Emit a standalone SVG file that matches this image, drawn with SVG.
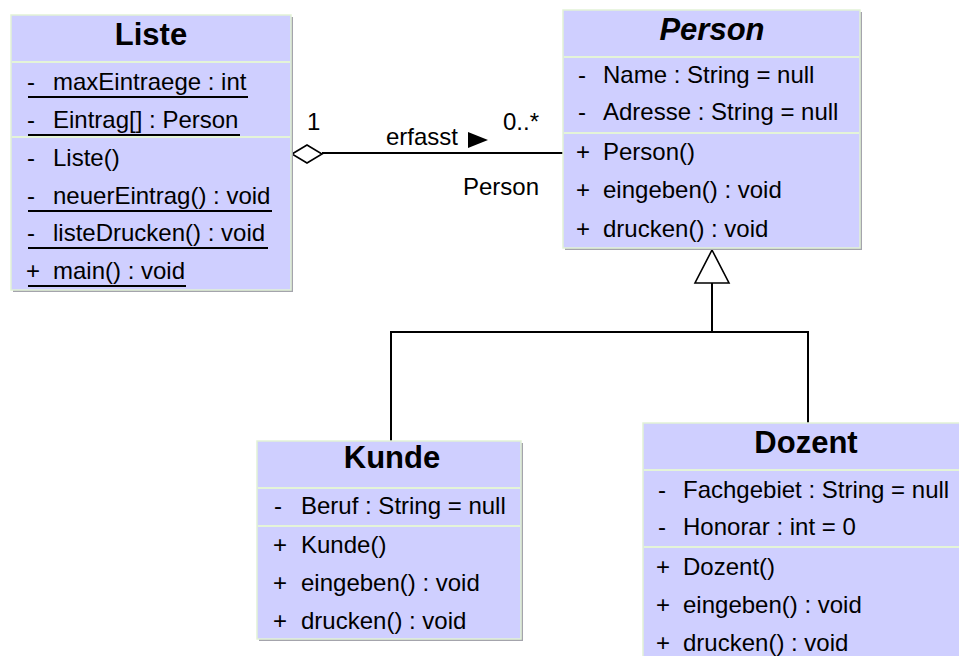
<svg xmlns="http://www.w3.org/2000/svg" width="959" height="656" viewBox="0 0 959 656">
<style>
  .shadow { fill: #a4a4ac; }
  .box { fill: #cfcfff; stroke: #e2f2d6; stroke-width: 1.5; }
  .div { stroke: #e4f4d8; stroke-width: 2; }
  .title { font-family: "Liberation Sans", Arial, sans-serif; font-size: 31px; font-weight: bold; fill: #000; text-anchor: middle; }
  .abs { font-style: italic; }
  .row { font-family: "Liberation Sans", Arial, sans-serif; font-size: 24px; fill: #000; }
  .ul { stroke: #000; stroke-width: 2; }
  .line { stroke: #000; stroke-width: 2; fill: none; }
  .hollow { fill: #fff; stroke: #000; stroke-width: 1.6; }
  .lbl { font-family: "Liberation Sans", Arial, sans-serif; font-size: 24px; fill: #000; }
</style>
<rect width="959" height="656" fill="#ffffff"/>

<g id="connectors">
  <line class="line" x1="322" y1="153" x2="563" y2="153"/>
  <polygon class="hollow" points="292,154 307,145 322,154 307,163"/>
  <text class="lbl" x="307" y="130">1</text>
  <text class="lbl" x="386" y="145">erfasst</text>
  <polygon points="468,132 488,140 468,148" fill="#000"/>
  <text class="lbl" x="503" y="130">0..*</text>
  <text class="lbl" x="463" y="195">Person</text>

  <polyline class="line" points="391,441 391,332 808,332 808,423"/>
  <line class="line" x1="712" y1="283" x2="712" y2="332"/>
  <polygon class="hollow" points="712,250 729,283 695,283"/>
</g>

<g id="Liste">
  <rect class="shadow" x="13" y="17" width="280" height="275"/>
  <rect class="box" x="11" y="15" width="280" height="275"/>
  <line class="div" x1="12" y1="62" x2="290" y2="62"/>
  <line class="div" x1="12" y1="137" x2="290" y2="137"/>
  <text class="title" x="151" y="45">Liste</text>
  <text class="row" x="27" y="90">-</text><text class="row" x="53" y="90">maxEintraege : int</text>
  <line class="ul" x1="28" y1="97" x2="248" y2="97"/>
  <text class="row" x="27" y="128">-</text><text class="row" x="53" y="128">Eintrag[] : Person</text>
  <line class="ul" x1="28" y1="135" x2="240" y2="135"/>
  <text class="row" x="27" y="166">-</text><text class="row" x="53" y="166">Liste()</text>
  <text class="row" x="27" y="204">-</text><text class="row" x="53" y="204">neuerEintrag() : void</text>
  <line class="ul" x1="28" y1="211" x2="272" y2="211"/>
  <text class="row" x="27" y="241">-</text><text class="row" x="53" y="241">listeDrucken() : void</text>
  <line class="ul" x1="28" y1="248" x2="268" y2="248"/>
  <text class="row" x="26" y="279">+</text><text class="row" x="53" y="279">main() : void</text>
  <line class="ul" x1="28" y1="286" x2="186" y2="286"/>
</g>

<g id="Person">
  <rect class="shadow" x="565" y="12" width="297" height="238"/>
  <rect class="box" x="563" y="10" width="297" height="238"/>
  <line class="div" x1="564" y1="57" x2="859" y2="57"/>
  <line class="div" x1="564" y1="133" x2="859" y2="133"/>
  <text class="title abs" x="712" y="40">Person</text>
  <text class="row" x="578" y="83">-</text><text class="row" x="603" y="83">Name : String = null</text>
  <text class="row" x="578" y="120">-</text><text class="row" x="603" y="120">Adresse : String = null</text>
  <text class="row" x="576" y="160">+</text><text class="row" x="603" y="160">Person()</text>
  <text class="row" x="576" y="198">+</text><text class="row" x="603" y="198">eingeben() : void</text>
  <text class="row" x="576" y="237">+</text><text class="row" x="603" y="237">drucken() : void</text>
</g>

<g id="Kunde">
  <rect class="shadow" x="259" y="443" width="264" height="198"/>
  <rect class="box" x="257" y="441" width="264" height="198"/>
  <line class="div" x1="258" y1="488" x2="520" y2="488"/>
  <line class="div" x1="258" y1="526" x2="520" y2="526"/>
  <text class="title" x="392" y="468">Kunde</text>
  <text class="row" x="274" y="514">-</text><text class="row" x="301" y="514">Beruf : String = null</text>
  <text class="row" x="273" y="553">+</text><text class="row" x="301" y="553">Kunde()</text>
  <text class="row" x="273" y="591">+</text><text class="row" x="301" y="591">eingeben() : void</text>
  <text class="row" x="273" y="629">+</text><text class="row" x="301" y="629">drucken() : void</text>
</g>

<g id="Dozent">
  <rect class="shadow" x="645" y="425" width="330" height="250"/>
  <rect class="box" x="643" y="423" width="330" height="250"/>
  <line class="div" x1="644" y1="470" x2="972" y2="470"/>
  <line class="div" x1="644" y1="547" x2="972" y2="547"/>
  <text class="title" x="806" y="453">Dozent</text>
  <text class="row" x="658" y="498">-</text><text class="row" x="683" y="498">Fachgebiet : String = null</text>
  <text class="row" x="658" y="535">-</text><text class="row" x="683" y="535">Honorar : int = 0</text>
  <text class="row" x="656" y="575">+</text><text class="row" x="683" y="575">Dozent()</text>
  <text class="row" x="656" y="613">+</text><text class="row" x="683" y="613">eingeben() : void</text>
  <text class="row" x="656" y="651">+</text><text class="row" x="683" y="651">drucken() : void</text>
</g>
</svg>
